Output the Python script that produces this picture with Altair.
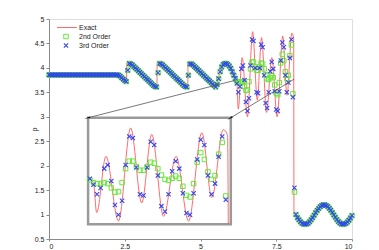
import altair as alt
import pandas as pd

# ---------------- data ----------------
x_ticks = [0, 2.5, 5, 7.5, 10]
y_ticks = [0.5, 1, 1.5, 2, 2.5, 3, 3.5, 4, 4.5, 5]

# exact solution (break points / extremes)
exact_x = [0.00, 2.27, 2.40, 2.56, 2.57, 2.65, 3.10, 3.56, 3.57, 3.65, 4.10, 4.58,
           4.59, 4.67, 5.10, 5.48, 5.62, 5.78, 5.95, 6.13, 6.20, 6.245, 6.375, 6.55,
           6.72, 6.875, 7.015, 7.18, 7.355, 7.53, 7.715, 7.855, 8.015, 8.075, 8.085,
           8.45, 9.08, 9.71, 10.00]
exact_rho = [3.857, 3.857, 3.80, 3.72, 4.10, 4.09, 3.85, 3.60, 4.10, 4.09, 3.85, 3.60,
             4.10, 4.09, 3.86, 3.61, 3.85, 4.10, 4.05, 3.81, 3.72, 3.16, 4.21, 3.00,
             4.74, 3.34, 4.62, 3.09, 4.21, 3.00, 4.65, 3.44, 4.71, 4.60, 1.055,
             0.80, 1.20, 0.80, 0.94]

# numerical solutions on a 0.05 grid
grid_x = [round(0.05 * i, 2) for i in range(201)]

front_rho = [  # x = 0.00 ... 6.10 (both schemes)
    3.857, 3.857, 3.857, 3.857, 3.857, 3.857, 3.857, 3.857, 3.857, 3.857,
    3.857, 3.857, 3.857, 3.857, 3.857, 3.857, 3.857, 3.857, 3.857, 3.857,
    3.857, 3.857, 3.857, 3.857, 3.857, 3.857, 3.857, 3.857, 3.857, 3.857,
    3.857, 3.857, 3.857, 3.857, 3.857, 3.857, 3.857, 3.857, 3.857, 3.857,
    3.857, 3.857, 3.857, 3.857, 3.857, 3.857,
    3.85, 3.83, 3.80, 3.77, 3.74,
    3.72, 3.95, 4.09,
    4.08, 4.06, 4.03, 4.00, 3.97, 3.94, 3.91, 3.88, 3.85, 3.82, 3.79, 3.76,
    3.73, 3.70, 3.67, 3.64, 3.62,
    3.61, 3.90, 4.09,
    4.08, 4.06, 4.03, 4.00, 3.97, 3.94, 3.91, 3.88, 3.85, 3.82, 3.79, 3.76,
    3.73, 3.70, 3.67, 3.64, 3.62,
    3.61, 3.85, 4.08,
    4.08, 4.06, 4.03, 4.00, 3.97, 3.94, 3.91, 3.88, 3.85, 3.82, 3.79, 3.76,
    3.73, 3.70, 3.67, 3.64,
    3.61, 3.66, 3.78, 3.92, 4.02, 4.07, 4.09, 4.09, 4.07, 4.04, 3.99, 3.92, 3.85,
]

osc_2nd = [  # x = 6.15 ... 8.15
    3.77, 3.72, 3.70, 3.70, 3.72, 3.70, 3.62, 3.54, 3.55, 3.72,
    3.98, 4.12, 4.12, 4.02, 3.95, 3.95, 4.02, 4.10, 4.08, 3.98,
    3.86, 3.78, 3.76, 3.80, 3.84, 3.80, 3.65, 3.48, 3.45, 3.70,
    4.10, 4.28, 4.15, 3.92, 3.78, 3.85, 4.25, 4.47, 3.47, 1.46,
    1.00,
]
osc_3rd = [  # x = 6.15 ... 8.15
    3.79, 3.68, 3.50, 3.62, 3.98, 4.05, 3.75, 3.30, 3.12, 3.38,
    4.05, 4.58, 4.55, 4.00, 3.50, 3.48, 4.00, 4.48, 4.42, 3.85,
    3.28, 3.18, 3.50, 3.93, 4.12, 3.98, 3.52, 3.15, 3.12, 3.52,
    4.15, 4.52, 4.42, 3.85, 3.50, 3.70, 4.20, 4.58, 3.40, 1.55,
    1.00,
]
tail_rho = [  # x = 8.20 ... 10.00 (both schemes)
    0.937, 0.892, 0.854, 0.824, 0.806, 0.800, 0.806, 0.824, 0.854, 0.892,
    0.937, 0.986, 1.036, 1.083, 1.126, 1.160, 1.185, 1.198, 1.199, 1.187,
    1.164, 1.131, 1.089, 1.042, 0.992, 0.943, 0.898, 0.858, 0.828, 0.808,
    0.800, 0.805, 0.821, 0.849, 0.886, 0.931, 0.979,
]

# zoom window (data) and where the inset box sits (main-axis coordinates)
zoom_x = [6.125, 8.12]
zoom_y = [2.94, 4.93]
inset_x = [1.29, 6.0]
inset_y = [0.8, 2.98]
# arrows: from point on curve to inset corner
arrow_x = [6.17, 8.09]
arrow_y = [3.75, 3.77]
arrow_tx = [1.29, 6.0]
arrow_ty = [2.98, 2.98]
arrow_angle = [255.7, 238.6]

legend_labels = ["Exact", "2nd Order", "3rd Order"]

# ---------------- build tables ----------------
rho2 = front_rho + osc_2nd + tail_rho
rho3 = front_rho + osc_3rd + tail_rho
exact_df = pd.DataFrame({"x": exact_x, "rho": exact_rho})
o2_df = pd.DataFrame({"x": grid_x, "rho": rho2})
o3_df = pd.DataFrame({"x": grid_x, "rho": rho3})

RED = "#ff5a5a"
GREEN = "#66e83a"
BLUE = "#3347f0"
XSHAPE = "M-1,-1L1,1M-1,1L1,-1"
FONT = "Liberation Sans"
SQ_SIZE = 20
X_SIZE = 18

xscale = alt.Scale(domain=[0, 10], nice=False, zero=False)
yscale = alt.Scale(domain=[0.5, 5], nice=False, zero=False)
xaxis = alt.Axis(values=x_ticks, format=".1~f", title=None, grid=False, tickSize=2,
                 domainColor="#8a8a8a", tickColor="#8a8a8a", labelColor="#222",
                 labelFont=FONT, labelFontSize=7, labelPadding=1)
yaxis = alt.Axis(values=y_ticks, format=".1~f", title="ρ", grid=False, tickSize=3,
                 domainColor="#8a8a8a", tickColor="#8a8a8a", labelColor="#222",
                 labelFont=FONT, labelFontSize=7, labelPadding=2,
                 titleFont=FONT, titleFontSize=7, titleFontWeight="normal",
                 titleColor="#222", titleX=-12, titleY=110)


def X(f):
    return alt.X(f + ":Q", scale=xscale, axis=xaxis)


def Y(f):
    return alt.Y(f + ":Q", scale=yscale, axis=yaxis)


sx = (inset_x[1] - inset_x[0]) / (zoom_x[1] - zoom_x[0])
sy = (inset_y[1] - inset_y[0]) / (zoom_y[1] - zoom_y[0])
xi_expr = f"{inset_x[0]} + (datum.x - {zoom_x[0]}) * {sx}"
yi_expr = f"max({inset_y[0]}, {inset_y[0]} + (datum.rho - {zoom_y[0]}) * {sy})"
in_window = f"datum.x >= {zoom_x[0]} && datum.x <= {zoom_x[1]}"
in_box = in_window + f" && datum.rho >= {zoom_y[0]} && datum.rho <= {zoom_y[1]}"

# main curves
exact_line = alt.Chart(exact_df).mark_line(color=RED, strokeWidth=0.9,
                                           interpolate="monotone").encode(x=X("x"), y=Y("rho"))
sq = alt.Chart(o2_df).mark_point(shape="square", filled=False, color=GREEN,
                                 size=SQ_SIZE, strokeWidth=1, opacity=1).encode(x=X("x"), y=Y("rho"))
cr = alt.Chart(o3_df).mark_point(shape=XSHAPE, filled=False, color=BLUE,
                                 size=X_SIZE, strokeWidth=1.1, opacity=1).encode(x=X("x"), y=Y("rho"))

# inset curves
exact_in = alt.Chart(exact_df).transform_filter(in_window).transform_calculate(
    xi=xi_expr, yi=yi_expr).mark_line(color=RED, strokeWidth=0.9, interpolate="monotone").encode(
    x=X("xi"), y=Y("yi"))
sq_in = alt.Chart(o2_df).transform_filter(in_box).transform_calculate(
    xi=xi_expr, yi=yi_expr).mark_point(shape="square", filled=False, color=GREEN,
                                       size=SQ_SIZE, strokeWidth=1, opacity=1).encode(x=X("xi"), y=Y("yi"))
cr_in = alt.Chart(o3_df).transform_filter(in_box).transform_calculate(
    xi=xi_expr, yi=yi_expr).mark_point(shape=XSHAPE, filled=False, color=BLUE,
                                       size=X_SIZE, strokeWidth=1.1, opacity=1).encode(x=X("xi"), y=Y("yi"))

box_df = pd.DataFrame({"x0": [inset_x[0]], "x1": [inset_x[1]], "y0": [inset_y[0]], "y1": [inset_y[1]]})
box = alt.Chart(box_df).mark_rect(fill=None, stroke="#9a9a9a", strokeWidth=2.5).encode(
    x=X("x0"), x2="x1", y=Y("y0"), y2="y1")

arr_df = pd.DataFrame({"x": arrow_x, "rho": arrow_y, "tx": arrow_tx, "ty": arrow_ty,
                       "ang": arrow_angle})
arr_lines = alt.Chart(arr_df).mark_rule(color="#555", strokeWidth=0.8).encode(
    x=X("x"), y=Y("rho"), x2="tx", y2="ty")
arr_heads = alt.Chart(arr_df).mark_point(shape="wedge", filled=True, color="#111",
                                         size=45, opacity=1).encode(
    x=X("tx"), y=Y("ty"), angle=alt.Angle("ang:Q", scale=None))

# legend (pixel positions inside the plot area)
leg_df = pd.DataFrame({"label": legend_labels, "py": [8.5, 17.5, 26.5]})
leg_text = alt.Chart(leg_df).mark_text(align="left", baseline="middle", font=FONT,
                                       fontSize=7, color="#222").encode(
    x=alt.value(30), y=alt.Y("py:Q", scale=None), text="label:N")
leg_line = alt.Chart(leg_df.iloc[[0]]).mark_rule(color=RED, strokeWidth=0.9).encode(
    x=alt.value(8), x2=alt.value(28), y=alt.Y("py:Q", scale=None))
leg_sq = alt.Chart(leg_df.iloc[[1]]).mark_point(shape="square", filled=False, color=GREEN,
                                                size=SQ_SIZE, strokeWidth=1, opacity=1).encode(
    x=alt.value(17), y=alt.Y("py:Q", scale=None))
leg_cr = alt.Chart(leg_df.iloc[[2]]).mark_point(shape=XSHAPE, filled=False, color=BLUE,
                                                size=X_SIZE, strokeWidth=1.1, opacity=1).encode(
    x=alt.value(17), y=alt.Y("py:Q", scale=None))

chart = alt.layer(
    exact_line, sq, cr, box, exact_in, sq_in, cr_in, arr_lines, arr_heads,
    leg_line, leg_sq, leg_cr, leg_text,
).properties(
    width=303, height=220,
    autosize=alt.AutoSizeParams(type="none"),
    padding={"left": 41, "top": 11, "right": 10, "bottom": 11},
).configure_view(stroke=None).configure(background="white")

chart.save("out.html", embed_options={"renderer": "svg", "actions": False})
